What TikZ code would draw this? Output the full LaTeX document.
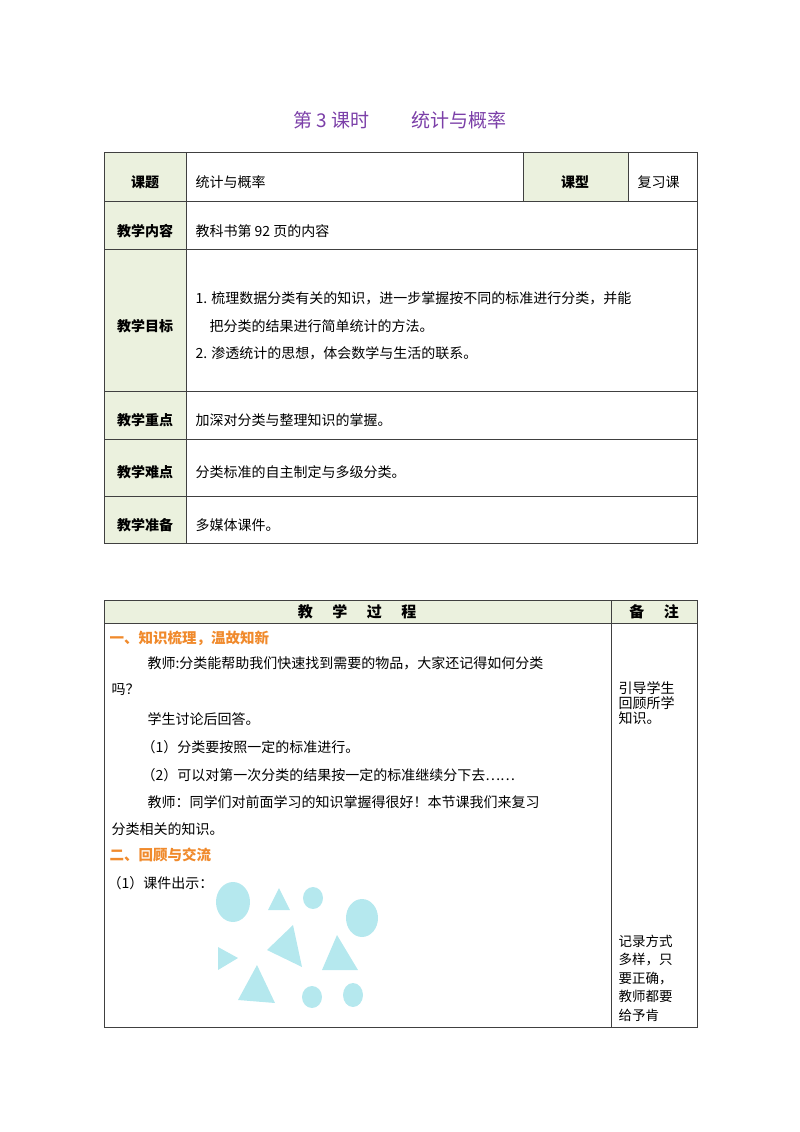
\documentclass[tikz,border=0pt]{standalone}
\usepackage{fontspec}
\setmainfont{Noto Sans CJK SC}
\definecolor{lab}{HTML}{EBF1DE}
\definecolor{ttl}{HTML}{7B3FA8}
\definecolor{org}{HTML}{F08A2C}
\definecolor{shp}{HTML}{B5E8EE}
\begin{document}
\begin{tikzpicture}[x=1pt,y=-1pt,
  grid/.style={draw=black!75,line width=0.8pt},
  lbl/.style={font=\fontsize{14}{16}\selectfont\bfseries},
  txt/.style={anchor=west,font=\fontsize{14}{16}\selectfont},
  head/.style={anchor=west,font=\fontsize{14.5}{16}\selectfont\bfseries,text=org},
  note/.style={anchor=west,font=\fontsize{14}{16}\selectfont},
  sh/.style={fill=shp,draw=none}]
\useasboundingbox (0,0) rectangle (800,1132);
\node[font=\fontsize{19}{22}\selectfont,text=ttl] (title) at (400,120) {第 3 课时\hspace{2.2em}统计与概率};
% table 1
\fill[lab] (104,152) rectangle (186,543);
\fill[lab] (523,152) rectangle (628,201);
\draw[grid] (104,152) rectangle (697,543);
\draw[grid] (186,152) -- (186,543);
\draw[grid] (523,152) -- (523,201);
\draw[grid] (628,152) -- (628,201);
\foreach \y in {201,249,391,439,496} \draw[grid] (104,\y) -- (697,\y);
\node[lbl] (l1) at (145,182) {课题};
\node[txt] (t1) at (192,182) {统计与概率};
\node[lbl] (l2) at (575,182) {课型};
\node[txt] (t2) at (634,182) {复习课};
\node[lbl] (l3) at (145,231) {教学内容};
\node[txt] (t3) at (192,231) {教科书第 92 页的内容};
\node[lbl] (l4) at (145,326) {教学目标};
\node[txt] (t4a) at (192,298) {1. 梳理数据分类有关的知识，进一步掌握按不同的标准进行分类，并能};
\node[txt] (t4b) at (206,326) {把分类的结果进行简单统计的方法。};
\node[txt] (t4c) at (192,353) {2. 渗透统计的思想，体会数学与生活的联系。};
\node[lbl] (l5) at (145,420) {教学重点};
\node[txt] (t5) at (192,420) {加深对分类与整理知识的掌握。};
\node[lbl] (l6) at (145,472) {教学难点};
\node[txt] (t6) at (192,472) {分类标准的自主制定与多级分类。};
\node[lbl] (l7) at (145,525) {教学准备};
\node[txt] (t7) at (192,525) {多媒体课件。};
% table 2
\fill[lab] (104,600) rectangle (697,623);
\draw[grid] (104,600) rectangle (697,1027);
\draw[grid] (104,623) -- (697,623);
\draw[grid] (611,600) -- (611,1027);
\node[font=\fontsize{15}{16}\selectfont\bfseries] (h1) at (357,612) {教\hspace{1.3em}学\hspace{1.3em}过\hspace{1.3em}程};
\node[font=\fontsize{15}{16}\selectfont\bfseries] (h2) at (654,612) {备\hspace{1.3em}注};
\node[head] (s1) at (106,638) {一、知识梳理，温故知新};
\node[txt] (p1) at (144,663) {教师:分类能帮助我们快速找到需要的物品，大家还记得如何分类};
\node[txt] (p2) at (108,690) {吗？};
\node[txt] (p3) at (144,719) {学生讨论后回答。};
\node[txt] (p4) at (138,747) {（1）分类要按照一定的标准进行。};
\node[txt] (p5) at (138,775) {（2）可以对第一次分类的结果按一定的标准继续分下去……};
\node[txt] (p6) at (144,802) {教师：同学们对前面学习的知识掌握得很好！本节课我们来复习};
\node[txt] (p7) at (108,829) {分类相关的知识。};
\node[head] (s2) at (106,855) {二、回顾与交流};
\node[txt] (p8) at (104,883) {（1）课件出示：};
\node[note,align=left] (n1) at (615,703) {引导学生\\[-1pt]回顾所学\\[-1pt]知识。};
\node[note,align=left,font=\fontsize{13.5}{18.5}\selectfont] (n2) at (615,978) {记录方式\\多样，只\\要正确，\\教师都要\\给予肯};
% shapes
\fill[sh] (233,902) ellipse (17 and 20);
\fill[sh] (279,888) -- (268,910) -- (290,910) -- cycle;
\fill[sh] (313,898) ellipse (10 and 11);
\fill[sh] (362,918) ellipse (16 and 19);
\fill[sh] (293,925) -- (267,950) -- (302,967) -- cycle;
\fill[sh] (218,947) -- (238,958) -- (218,970) -- cycle;
\fill[sh] (337,935) -- (322,970) -- (358,970) -- cycle;
\fill[sh] (257,965) -- (238,1000) -- (275,1003) -- cycle;
\fill[sh] (312,997) ellipse (10 and 11);
\fill[sh] (353,995) ellipse (10 and 12);
\end{tikzpicture}
\end{document}
